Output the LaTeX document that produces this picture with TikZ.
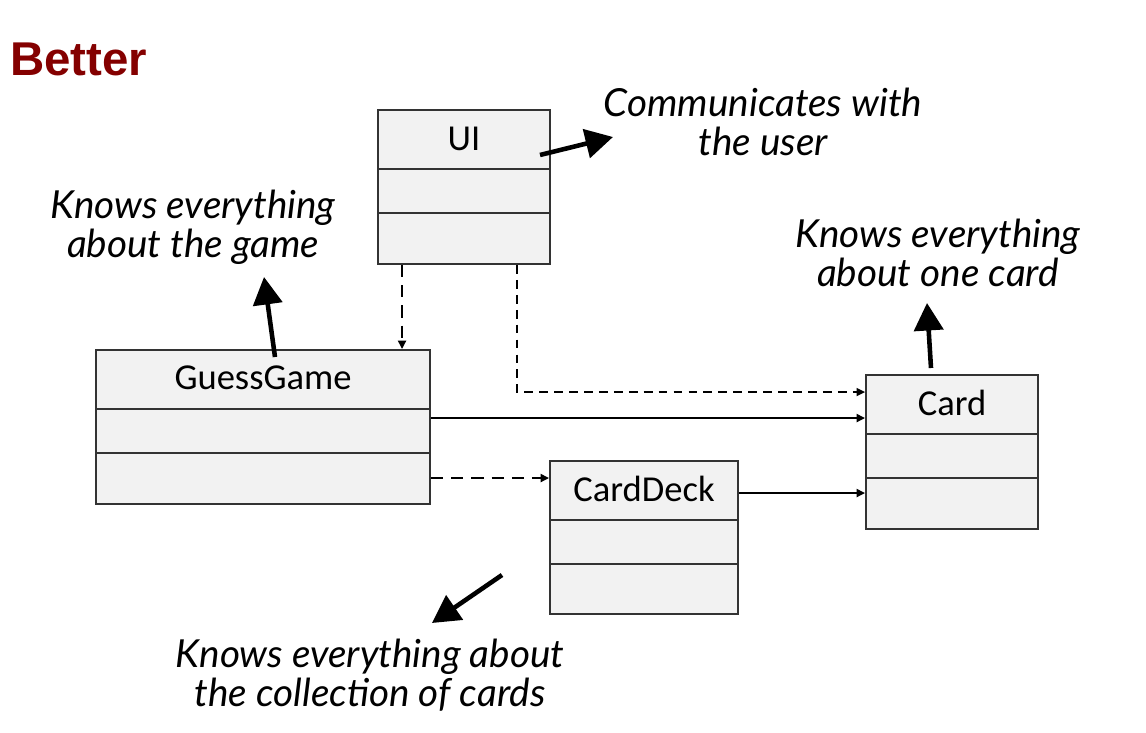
\documentclass[tikz,border=0pt]{standalone}
\usepackage{fontspec}
\setmainfont{Carlito}
\newfontfamily\titlefont{Liberation Sans}
\newfontfamily\handfont{Lato}
\usetikzlibrary{arrows.meta,calc}
\definecolor{titlered}{HTML}{840000}
\definecolor{boxfill}{HTML}{F2F2F2}
\definecolor{boxline}{HTML}{333333}
\begin{document}
\begin{tikzpicture}[x=0.02cm,y=-0.02cm,
  cls/.style={draw=boxline,fill=boxfill,line width=1.1pt,inner sep=0pt,minimum height=3.08cm},
  divline/.style={draw=boxline,line width=1.1pt},
  lbl/.style={font=\fontsize{20.8}{24}\selectfont,inner sep=0pt},
  note/.style={font=\handfont\itshape\fontsize{22}{22.3}\selectfont,align=center,inner sep=0pt},
  handarrow/.style={line width=2.6pt,-{Triangle[length=0.55cm,width=0.58cm]}},
  solidcon/.style={line width=1.5pt,-{Triangle[length=0.17cm,width=0.16cm]}},
  dashcon/.style={line width=1.5pt,dash pattern=on 7pt off 4.5pt,-{Triangle[length=0.17cm,width=0.16cm]}},
  thindash/.style={line width=0.9pt,dash pattern=on 5pt off 3.5pt,-{Triangle[length=0.17cm,width=0.16cm]}}
]
\useasboundingbox (0,0) rectangle (1146,733);

% title
\node[anchor=base west,font=\titlefont\bfseries\fontsize{27}{30}\selectfont,text=titlered,inner sep=0pt] (title) at (10,76) {Better};

% classes
\node[cls,minimum width=3.44cm] (ui) at (464,187) {};
\node[cls,minimum width=6.68cm] (gg) at (263,427) {};
\node[cls,minimum width=3.44cm] (card) at (952,452) {};
\node[cls,minimum width=3.76cm,minimum height=3.06cm] (deck) at (644,537.5) {};

\foreach \n in {ui,gg,card,deck}{
  \draw[divline] ($(\n.north west)+(0,60)$) -- ($(\n.north east)+(0,60)$);
  \draw[divline] ($(\n.north west)+(0,104)$) -- ($(\n.north east)+(0,104)$);
}

\node[lbl] (ui-name) at ($(ui.north)+(0,30)$) {UI};
\node[lbl] (gg-name) at ($(gg.north)+(0,29)$) {GuessGame};
\node[lbl] (card-name) at ($(card.north)+(0,29)$) {Card};
\node[lbl] (deck-name) at ($(deck.north)+(0,29)$) {CardDeck};

% connectors
\coordinate (a1) at ($(ui.south west)+(25,0)$);
\draw[dashcon] (a1) -- (a1 |- gg.north);
\coordinate (a2) at ($(ui.south east)+(-34,0)$);
\coordinate (a2e) at ($(card.north west)+(0,18)$);
\draw[thindash] (a2) |- (a2e);
\coordinate (a3) at ($(gg.north east)+(0,69)$);
\draw[solidcon] (a3) -- (a3 -| card.west);
\coordinate (a4) at ($(gg.north east)+(0,129)$);
\draw[dashcon] (a4) -- (a4 -| deck.west);
\coordinate (a5) at ($(deck.north east)+(0,33)$);
\draw[solidcon] (a5) -- (a5 -| card.west);

% notes
\node[note] (n-ui) at (763,122) {Communicates with\\the user};
\node[note] (n-gg) at (193,227) {Knows everything\\about the game};
\node[note] (n-card) at (938,253) {Knows everything\\about one card};
\node[note] (n-deck) at (370,675) {Knows everything about\\the collection of cards};

% hand-drawn arrows
\coordinate (h1s) at (540,155); \coordinate (h1e) at (613,137);
\draw[handarrow] (h1s) -- (h1e);
\coordinate (h2s) at (275,357); \coordinate (h2e) at (264,277);
\draw[handarrow] (h2s) -- (h2e);
\coordinate (h3s) at (931,368); \coordinate (h3e) at (927,303);
\draw[handarrow] (h3s) -- (h3e);
\coordinate (h4s) at (502,575); \coordinate (h4e) at (432,623);
\draw[handarrow] (h4s) -- (h4e);
\end{tikzpicture}
\end{document}
